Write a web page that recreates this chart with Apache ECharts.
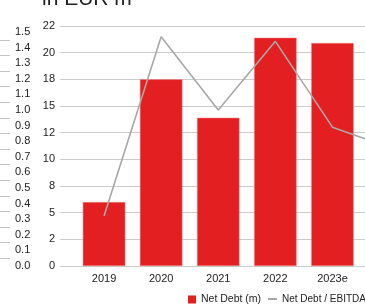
<!DOCTYPE html>
<html>
<head>
<meta charset="utf-8">
<script src="https://cdn.jsdelivr.net/npm/echarts@6/dist/echarts.min.js"></script>
<style>
  html, body { margin: 0; padding: 0; background: #fff; overflow: hidden; }
  /* chart is wider than the window: the last category is cut off like in the source */
  #main { width: 420px; height: 304px; }
</style>
</head>
<body>
<div id="main"></div>
<script>
// categories (last one is cut off at the right edge of the picture)
const years = ['2019', '2020', '2021', '2022', '2023e', '2024e'];
// net debt in EUR m
const netDebt = [6.0, 17.5, 13.9, 21.4, 20.9, null];
// net debt / EBITDA ratio
const leverage = [0.32, 1.47, 1.0, 1.44, 0.89, 0.76];
// tick labels as printed in the source (rounded)
const debtTicks = ['0', '2', '5', '8', '10', '12', '15', '18', '20', '22'];
const ratioTicks = ['0.0', '0.1', '0.2', '0.3', '0.4', '0.5', '0.6', '0.7', '0.8',
                    '0.9', '1.0', '1.1', '1.2', '1.3', '1.4', '1.5'];

const font = 'Liberation Sans, Arial, sans-serif';
const txt = '#222';

const chart = echarts.init(document.getElementById('main'));

const option = {
  animation: false,
  backgroundColor: '#fff',
  textStyle: { fontFamily: font },
  title: {
    text: 'in EUR m',
    left: 37,
    top: -16,
    textStyle: { fontSize: 21, fontWeight: 'normal', color: txt, fontFamily: font }
  },
  legend: [
    {
      data: [{ name: 'Net Debt (m)', icon: 'rect', itemStyle: { color: '#e41f21', borderWidth: 0 } }],
      left: 183, top: 289,
      itemWidth: 8, itemHeight: 8,
      textStyle: { fontSize: 10.5, color: txt, fontFamily: font }
    },
    {
      data: [{ name: 'Net Debt / EBITDA', icon: 'rect', itemStyle: { color: '#a8a8a8', borderWidth: 0 } }],
      left: 263, top: 289,
      itemWidth: 9, itemHeight: 2,
      textStyle: { fontSize: 10, color: txt, fontFamily: font }
    }
  ],
  // 0: gridlines + debt labels, 1: bars, 2: ratio line
  grid: [
    { left: 60, right: 0, top: 26, bottom: 38 },
    { left: 75.5, right: 1.9, top: 26, bottom: 38 },
    { left: 75.5, right: 1.9, top: 32, bottom: 38 }
  ],
  xAxis: [
    { gridIndex: 0, type: 'category', data: years, show: false },
    {
      gridIndex: 1, type: 'category', data: years,
      axisLine: { show: false }, axisTick: { show: false },
      axisLabel: { fontSize: 11, color: txt, margin: 7, fontFamily: font }
    },
    { gridIndex: 2, type: 'category', data: years, show: false }
  ],
  yAxis: [
    {
      gridIndex: 0, type: 'value', min: 0, max: 22.5, interval: 2.5,
      axisLine: { show: false }, axisTick: { show: false },
      splitLine: { lineStyle: { color: '#cccccc', width: 1 } },
      axisLabel: {
        fontSize: 11, color: txt, margin: 5, fontFamily: font,
        formatter: (v) => debtTicks[Math.round(v / 2.5)]
      }
    },
    { gridIndex: 1, type: 'value', min: 0, max: 22.5, show: false },
    {
      gridIndex: 2, type: 'value', min: 0, max: 1.5, interval: 0.1,
      position: 'left', offset: 65.5,
      axisLine: { show: false },
      axisTick: { show: false },
      minorTick: { show: true, splitNumber: 2, length: 10, lineStyle: { color: '#c4c4c4' } },
      splitLine: { show: false },
      axisLabel: {
        inside: true, margin: 5, fontSize: 11, color: txt, fontFamily: font,
        formatter: (v) => ratioTicks[Math.round(v * 10)]
      }
    }
  ],
  series: [
    {
      name: 'Net Debt (m)',
      type: 'bar',
      xAxisIndex: 1, yAxisIndex: 1,
      data: netDebt,
      barWidth: 42.5,
      itemStyle: { color: '#e41f21', borderColor: '#f08a8a', borderWidth: 0.5 }
    },
    {
      name: 'Net Debt / EBITDA',
      type: 'line',
      xAxisIndex: 2, yAxisIndex: 2,
      data: leverage,
      symbol: 'none',
      z: 5,
      lineStyle: { color: '#a8a8a8', width: 1.6 },
      itemStyle: { color: '#a8a8a8' }
    }
  ]
};

chart.setOption(option);
</script>
</body>
</html>
